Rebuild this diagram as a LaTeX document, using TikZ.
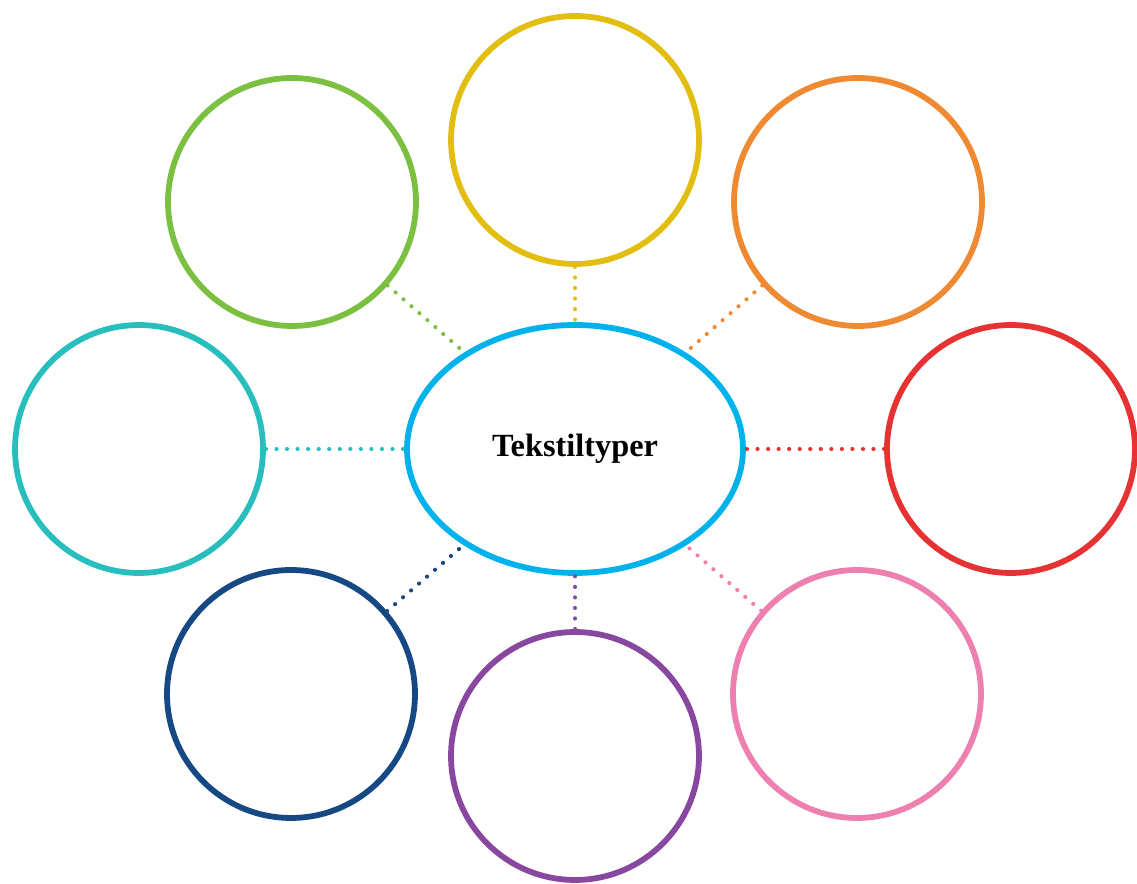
\documentclass[tikz,border=0pt]{standalone}
\usepackage{fontspec}
\setmainfont{Liberation Serif}
\usetikzlibrary{shapes.geometric}
\definecolor{hubblue}{RGB}{0,178,236}
\definecolor{ringyellow}{RGB}{226,190,16}
\definecolor{ringorange}{RGB}{240,138,50}
\definecolor{ringred}{RGB}{230,50,50}
\definecolor{ringpink}{RGB}{238,128,176}
\definecolor{ringpurple}{RGB}{136,72,160}
\definecolor{ringnavy}{RGB}{22,72,132}
\definecolor{ringteal}{RGB}{40,190,190}
\definecolor{ringgreen}{RGB}{124,192,66}
\tikzset{
  ring/.style={draw, circle, line width=3.3pt, minimum size=4.96cm, inner sep=0pt},
  link/.style={line width=2.3pt, line cap=round, dash pattern=on 0.1pt off 5.9pt}
}

\begin{document}
\begin{tikzpicture}[x=0.02cm, y=-0.02cm]
  \useasboundingbox (0,0) rectangle (1137,884);

  % Centre
  \node[draw=hubblue, ellipse, line width=3.3pt, minimum width=6.72cm, minimum height=4.96cm, inner sep=0pt,
        font=\bfseries\fontsize{18.4}{22}\selectfont] (hub) at (575,449) {Tekstiltyper};

  % Circles around
  \node[ring, draw=ringyellow] (yellow) at (575,140) {};
  \node[ring, draw=ringorange] (orange) at (858,202) {};
  \node[ring, draw=ringred] (red) at (1011,449) {};
  \node[ring, draw=ringpink] (pink) at (857,694) {};
  \node[ring, draw=ringpurple] (purple) at (575,756) {};
  \node[ring, draw=ringnavy] (navy) at (291,694) {};
  \node[ring, draw=ringteal] (teal) at (139,449) {};
  \node[ring, draw=ringgreen] (green) at (292,202) {};

  % Dotted links
  \draw[link, ringyellow] (yellow) -- (hub);
  \draw[link, ringorange] (orange) -- (hub);
  \draw[link, ringred] (red) -- (hub);
  \draw[link, ringpink] (pink) -- (hub);
  \draw[link, ringpurple] (purple) -- (hub);
  \draw[link, ringnavy] (navy) -- (hub);
  \draw[link, ringteal] (teal) -- (hub);
  \draw[link, ringgreen] (green) -- (hub);
\end{tikzpicture}
\end{document}
